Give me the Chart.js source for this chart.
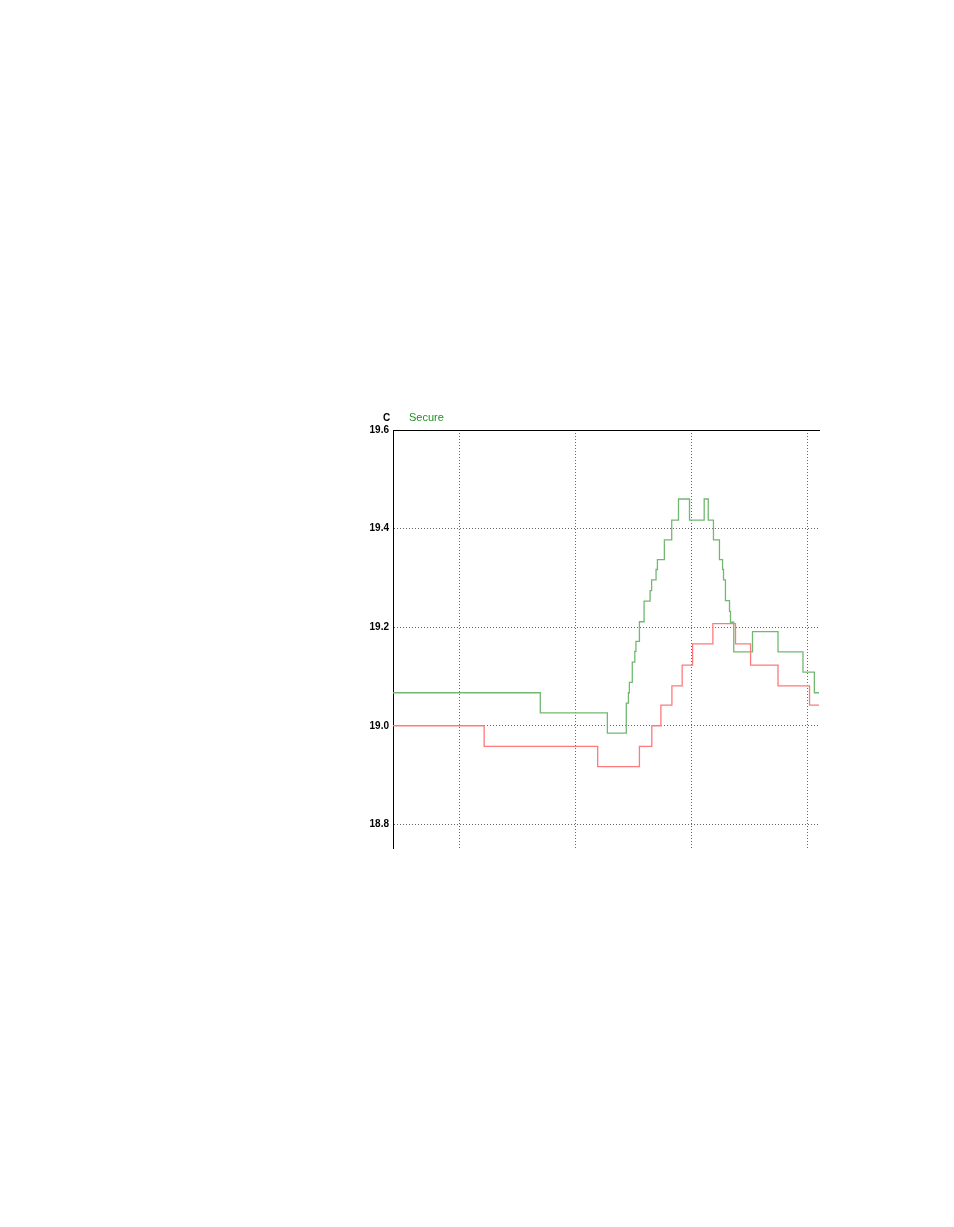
<!DOCTYPE html>
<html>
<head>
<meta charset="utf-8">
<script src="https://cdn.jsdelivr.net/npm/chart.js@4.4.0/dist/chart.umd.min.js"></script>
<style>
  html, body { margin: 0; padding: 0; background: #fff; }
  #wrap { position: relative; width: 954px; height: 1227px; }
  .lbl { position: absolute; font-family: "Liberation Sans", Arial, sans-serif; }
</style>
</head>
<body>
<div id="wrap">
  <canvas id="chart" width="954" height="1227"></canvas>
  <div class="lbl" style="left:383px; top:412px; font-size:10px; font-weight:bold; color:#000;">C</div>
  <div class="lbl" style="left:409px; top:411px; font-size:11px; color:#1f921f;">Secure</div>
</div>
<script>
// time in minutes (grid every 60), temperature in C
const xMin = -34.2;
const xMax = 186.2;
const xTicks = [0, 60, 120, 180];
const yMin = 18.752;
const yMax = 19.6;
const yTicks = [18.8, 19.0, 19.2, 19.4, 19.6];

// red series (value holds from each x until the next x)
const redX = [-34.2, 12.95, 71.7, 93.3, 99.7, 104.4, 110.1, 115.4, 120.8, 131.3, 143.0, 150.8, 165.0, 181.3, 186.2];
const redY = [19.0, 18.958, 18.917, 18.958, 19.0, 19.042, 19.081, 19.123, 19.166, 19.207, 19.166, 19.123, 19.081, 19.042, 19.042];

// green series ("Secure")
const greenX = [-34.2, 42.0, 76.7, 86.5, 87.6, 88.1, 89.6, 90.9, 91.5, 93.3, 95.7, 98.8, 99.6, 101.9, 102.6,
  106.2, 110.0, 113.5, 119.2, 126.8, 128.9, 131.6, 134.7, 136.3, 136.8, 137.8, 139.9, 140.4, 142.1,
  151.8, 165.0, 177.9, 183.8, 186.2];
const greenY = [19.067, 19.026, 18.985, 19.046, 19.067, 19.088, 19.129, 19.151, 19.171, 19.211, 19.253, 19.274, 19.296, 19.317, 19.337,
  19.377, 19.417, 19.46, 19.417, 19.46, 19.417, 19.377, 19.337, 19.317, 19.296, 19.254, 19.232, 19.210, 19.150,
  19.191, 19.150, 19.109, 19.067, 19.067];

const toPoints = (xs, ys) => xs.map((x, i) => ({ x: x, y: ys[i] }));

const tickFont = { family: "'Liberation Sans', Arial, sans-serif", size: 10, weight: "bold" };

new Chart(document.getElementById("chart").getContext("2d"), {
  type: "line",
  data: {
    datasets: [
      {
        label: "red",
        data: toPoints(redX, redY),
        borderColor: "#ff7a7a",
        borderWidth: 1.3,
        stepped: "before",
        pointRadius: 0,
        fill: false,
      },
      {
        label: "Secure",
        data: toPoints(greenX, greenY),
        borderColor: "#72b872",
        borderWidth: 1.3,
        stepped: "before",
        pointRadius: 0,
        fill: false,
      },
    ],
  },
  options: {
    responsive: false,
    animation: false,
    devicePixelRatio: 1,
    layout: { padding: { left: 353, top: 430, right: 135, bottom: 379 } },
    plugins: { legend: { display: false }, tooltip: { enabled: false } },
    scales: {
      x: {
        type: "linear",
        min: xMin,
        max: xMax,
        afterBuildTicks: (scale) => { scale.ticks = xTicks.map((v) => ({ value: v })); },
        afterFit: (scale) => { scale.height = 0; },
        ticks: { display: false },
        grid: { color: "#666", lineWidth: 1, drawTicks: false },
        border: { display: false, dash: [1, 2] },
      },
      xTop: {
        type: "linear",
        position: "top",
        min: xMin,
        max: xMax,
        afterFit: (scale) => { scale.height = 0; },
        ticks: { display: false },
        grid: { display: false },
        border: { display: true, color: "#000", width: 1 },
      },
      y: {
        min: yMin,
        max: yMax,
        afterBuildTicks: (scale) => { scale.ticks = yTicks.map((v) => ({ value: v })); },
        afterFit: (scale) => { scale.width = 40; },
        ticks: {
          color: "#000",
          font: tickFont,
          padding: 4,
          callback: (v) => Number(v).toFixed(1),
        },
        grid: {
          drawTicks: false,
          color: (ctx) => (ctx.tick && ctx.tick.value === 19.6 ? "#000" : "#666"),
        },
        border: {
          display: true,
          color: "#000",
          width: 1,
          dash: (ctx) => (ctx.tick && ctx.tick.value === 19.6 ? [] : [1, 2]),
        },
      },
    },
  },
});
</script>
</body>
</html>
